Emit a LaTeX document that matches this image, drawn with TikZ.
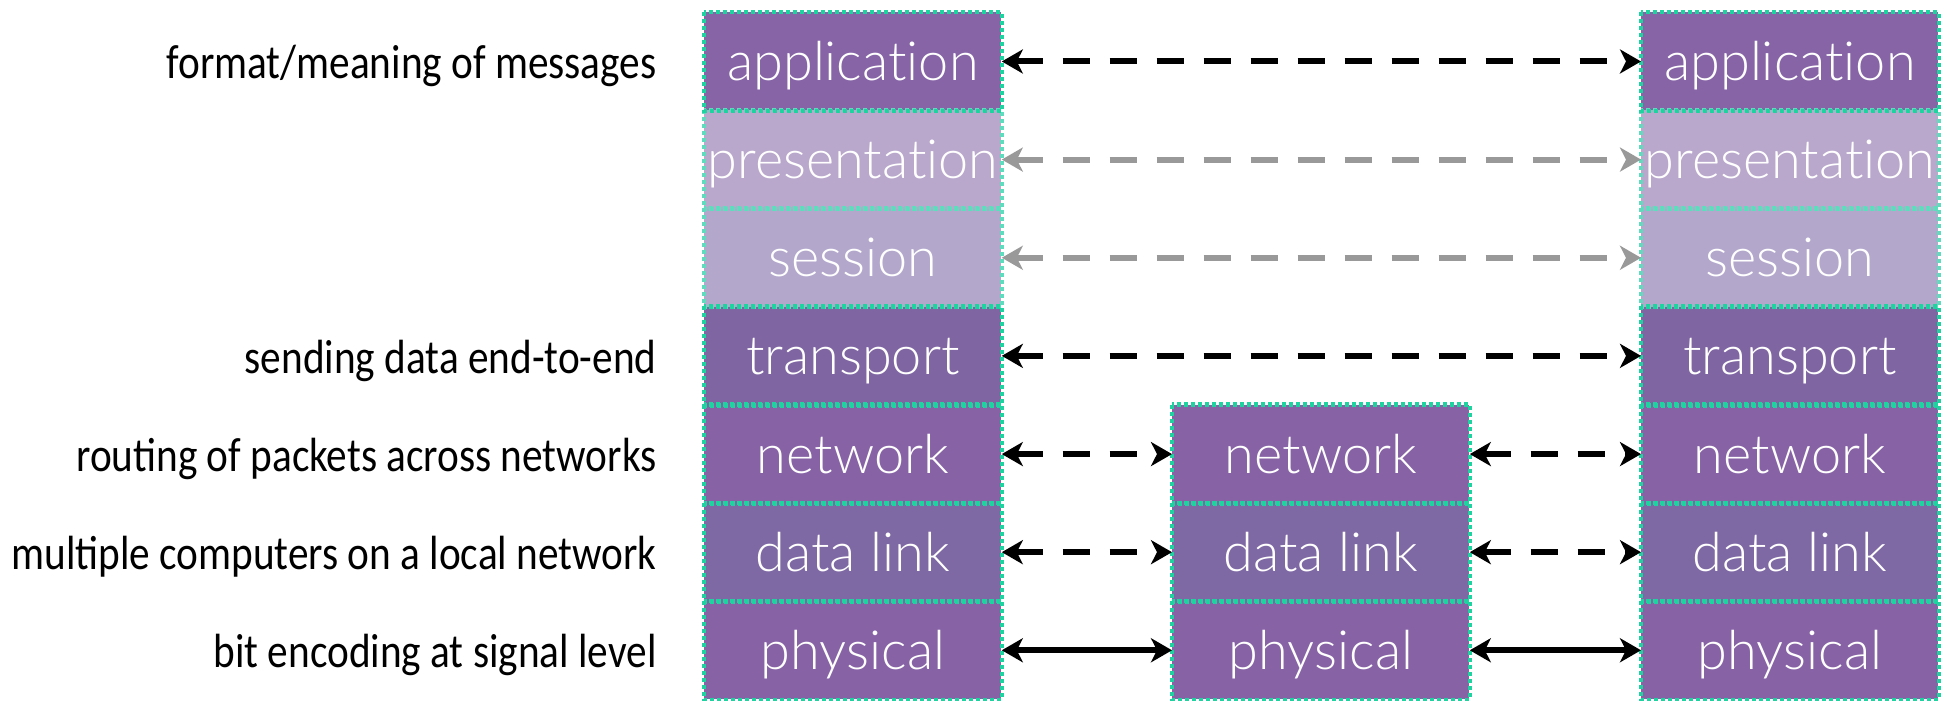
\documentclass[tikz,border=0pt]{standalone}
\usepackage{fontspec}
\usetikzlibrary{arrows.meta}
\newfontfamily\labelfont{Carlito}[FakeStretch=0.86]
\newfontfamily\boxfont{Lato}[UprightFont=* Light, Ligatures=NoCommon]
\definecolor{cApp}{HTML}{8664A6}
\definecolor{cPres}{HTML}{B9A7CC}
\definecolor{cSess}{HTML}{B3A8CC}
\definecolor{cTrans}{HTML}{7F66A3}
\definecolor{cNet}{HTML}{8763A6}
\definecolor{cLink}{HTML}{7F69A4}
\definecolor{cPhys}{HTML}{8763A6}
\definecolor{cBorder}{HTML}{1FD3A0}
\definecolor{cBorderLight}{HTML}{5FDCBE}
\definecolor{cGrayArrow}{HTML}{999999}
\begin{document}
\begin{tikzpicture}[x=0.5pt,y=-0.5pt,
  layer/.style={minimum width=148.5pt, minimum height=49.07pt, inner sep=0pt,
    text=white, text height=19pt, text depth=0pt,
    font=\boxfont\fontsize{27}{30}\selectfont, anchor=north west},
  border/.style={draw=cBorder, line width=2.2pt, dash pattern=on 2pt off 1.5pt},
  faintborder/.style={border, draw=cBorderLight},
  desc/.style={anchor=base east, inner sep=0pt, font=\labelfont\fontsize{24}{28}\selectfont},
  tip/.tip={Stealth[length=10.5pt,width=12pt,inset=3pt]},
  link/.style={line width=3pt, dash pattern=on 13.5pt off 10pt, tip-tip},
  solidlink/.style={line width=3pt, tip-tip},
  graylink/.style={link, draw=cGrayArrow, color=cGrayArrow}]
\useasboundingbox (0,0) rectangle (1950,701);
\clip (0,0) rectangle (1950,701);
% left stack
\node[layer, fill=cApp]   (lapp)  at (704,12)    {application};
\node[layer, fill=cPres]  (lpres) at (704,110.1) {presentation};
\node[layer, fill=cSess]  (lsess) at (704,208.3) {session};
\node[layer, fill=cTrans] (ltr)   at (704,306.4) {transport};
\node[layer, fill=cNet]   (lnet)  at (704,404.6) {network};
\node[layer, fill=cLink]  (ldl)   at (704,502.7) {data link};
\node[layer, fill=cPhys]  (lph)   at (704,600.8) {physical};
% middle stack
\node[layer, fill=cNet]   (mnet)  at (1172,404.6) {network};
\node[layer, fill=cLink]  (mdl)   at (1172,502.7) {data link};
\node[layer, fill=cPhys]  (mph)   at (1172,600.8) {physical};
% right stack
\node[layer, fill=cApp]   (rapp)  at (1641,12)    {application};
\node[layer, fill=cPres]  (rpres) at (1641,110.1) {presentation};
\node[layer, fill=cSess]  (rsess) at (1641,208.3) {session};
\node[layer, fill=cTrans] (rtr)   at (1641,306.4) {transport};
\node[layer, fill=cNet]   (rnet)  at (1641,404.6) {network};
\node[layer, fill=cLink]  (rdl)   at (1641,502.7) {data link};
\node[layer, fill=cPhys]  (rph)   at (1641,600.8) {physical};
% borders on top of all fills
\foreach \n in {lpres,lsess,rpres,rsess}
  \draw[faintborder] (\n.north west) rectangle (\n.south east);
\foreach \n in {lapp,ltr,lnet,ldl,lph,mnet,mdl,mph,rapp,rtr,rnet,rdl,rph}
  \draw[border] (\n.north west) rectangle (\n.south east);
% descriptions
\node[desc] (dapp) at (657,78.5)  {format/meaning of messages};
\node[desc] (dtr)  at (657,373) {sending data end-to-end};
\node[desc] (dnet) at (657,471.2) {routing of packets across networks};
\node[desc] (ddl)  at (657,569.3) {multiple computers on a local network};
\node[desc] (dph)  at (657,667.4) {bit encoding at signal level};
% connectors
\draw[link] (lapp.east) -- (rapp.west);
\draw[graylink] (lpres.east) -- (rpres.west);
\draw[graylink] (lsess.east) -- (rsess.west);
\draw[link] (ltr.east) -- (rtr.west);
\draw[link] (lnet.east) -- (mnet.west);
\draw[link] (mnet.east) -- (rnet.west);
\draw[link] (ldl.east) -- (mdl.west);
\draw[link] (mdl.east) -- (rdl.west);
\draw[solidlink] (lph.east) -- (mph.west);
\draw[solidlink] (mph.east) -- (rph.west);
\end{tikzpicture}
\end{document}
